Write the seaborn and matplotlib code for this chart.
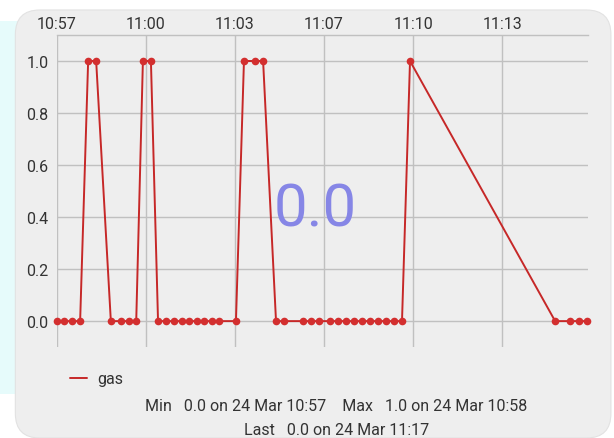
import pandas as pd
import matplotlib
matplotlib.use('Agg')
import matplotlib.pyplot as plt
import matplotlib.dates as mdates
from matplotlib.lines import Line2D
from matplotlib.patches import FancyBboxPatch
import seaborn as sns

# Sample times (24 Mar) and gas sensor state
times = [
    '10:57:00', '10:57:16', '10:57:34', '10:57:52',
    '10:58:10', '10:58:28',
    '10:59:01', '10:59:24', '10:59:42', '10:59:58',
    '11:00:13', '11:00:31',
    '11:00:47', '11:01:05', '11:01:23', '11:01:41', '11:01:57',
    '11:02:15', '11:02:30', '11:02:48', '11:03:04', '11:03:42',
    '11:04:00', '11:04:25', '11:04:43',
    '11:05:12', '11:05:30', '11:06:13', '11:06:31', '11:06:49',
    '11:07:13', '11:07:31', '11:07:49', '11:08:07', '11:08:25',
    '11:08:43', '11:09:01', '11:09:19', '11:09:37', '11:09:55',
    '11:10:13',
    '11:15:39', '11:16:13', '11:16:33', '11:16:51',
]
gas = [0, 0, 0, 0,
       1, 1,
       0, 0, 0, 0,
       1, 1,
       0, 0, 0, 0, 0, 0, 0, 0, 0, 0,
       1, 1, 1,
       0, 0, 0, 0, 0, 0, 0, 0, 0, 0, 0, 0, 0, 0, 0,
       1,
       0, 0, 0, 0]
y_ticks = [0.0, 0.2, 0.4, 0.6, 0.8, 1.0]
current_value = 0.0

data = pd.DataFrame({
    'time': pd.to_datetime(['2024-03-24 ' + t for t in times]),
    'gas': [float(v) for v in gas],
})

sns.set_style('white')
plt.rcParams['font.family'] = ['Roboto', 'DejaVu Sans']

fig = plt.figure(figsize=(6.14, 4.39), dpi=100)
fig.patch.set_facecolor('white')

# light cyan blur on the left, then the grey card
fig.patches.append(FancyBboxPatch((0.0, 0.1), 0.03, 0.85, boxstyle='square,pad=0',
                                  transform=fig.transFigure, facecolor='#e6fbfb',
                                  edgecolor='none', zorder=-2))
fig.patches.append(FancyBboxPatch((0.025, 0.0), 0.97, 0.975,
                                  boxstyle='round,pad=0,rounding_size=0.04',
                                  transform=fig.transFigure, facecolor='#eeeeee',
                                  edgecolor='#e2e2e2', lw=0.8, zorder=-1,
                                  mutation_aspect=614 / 439))

ax = fig.add_axes([0.0928, 0.207, 0.865, 0.711])
ax.set_facecolor('none')

red = '#c62828'
sns.lineplot(data=data, x='time', y='gas', ax=ax, color=red, lw=1.4,
             marker='o', markersize=5.5, markeredgewidth=0,
             markerfacecolor='#d32f2f', estimator=None)
for ln in ax.lines:
    ln.set_clip_on(False)

start = pd.Timestamp('2024-03-24 10:57:00')
ax.set_xlim(start, pd.Timestamp('2024-03-24 11:16:53'))
ax.set_ylim(-0.1, 1.1)
ax.set_xticks(pd.date_range(start, periods=6, freq='200s'))
ax.xaxis.set_major_formatter(mdates.DateFormatter('%H:%M'))
ax.set_yticks(y_ticks)
ax.set_yticklabels([f'{v:.1f}' for v in y_ticks])
ax.xaxis.tick_top()
ax.tick_params(axis='y', length=0, labelsize=11.5, colors='#333333', pad=6)
ax.tick_params(axis='x', length=0, labelsize=11.5, colors='#333333', pad=3)
ax.set_xlabel('')
ax.set_ylabel('')
if ax.get_legend() is not None:
    ax.get_legend().remove()

ax.grid(True, color='#c0c0c0', lw=1)
for side in ['left', 'right', 'bottom']:
    ax.spines[side].set_visible(False)
ax.spines['top'].set_color('#c0c0c0')
ax.spines['top'].set_linewidth(1)

# big current value
fig.text(0.513, 0.522, f'{current_value:.1f}', ha='center', va='center',
         fontsize=43, color='#8686e6')

# legend
handle = Line2D([], [], color=red, lw=1.4)
fig.legend([handle], ['gas'], loc='center left', bbox_to_anchor=(0.09, 0.135),
           frameon=False, handlelength=1.1, handletextpad=0.6, fontsize=11.5,
           labelcolor='#333333')

# stats
t_min = data.loc[data['gas'].idxmin(), 'time'].round('min')
t_max = data.loc[data['gas'].idxmax(), 'time'].round('min')
last = data.iloc[-1]
fmt = lambda t: t.strftime('%d %b %H:%M')
line1 = (f"Min   {data['gas'].min():.1f} on {fmt(t_min)}    "
         f"Max   {data['gas'].max():.1f} on {fmt(t_max)}")
line2 = f"Last   {last['gas']:.1f} on {fmt(last['time'].round('min'))}"
fig.text(0.548, 0.073, line1, ha='center', va='center', fontsize=11.5, color='#333333')
fig.text(0.548, 0.019, line2, ha='center', va='center', fontsize=11.5, color='#333333')

fig.savefig('out.png', dpi=100)
